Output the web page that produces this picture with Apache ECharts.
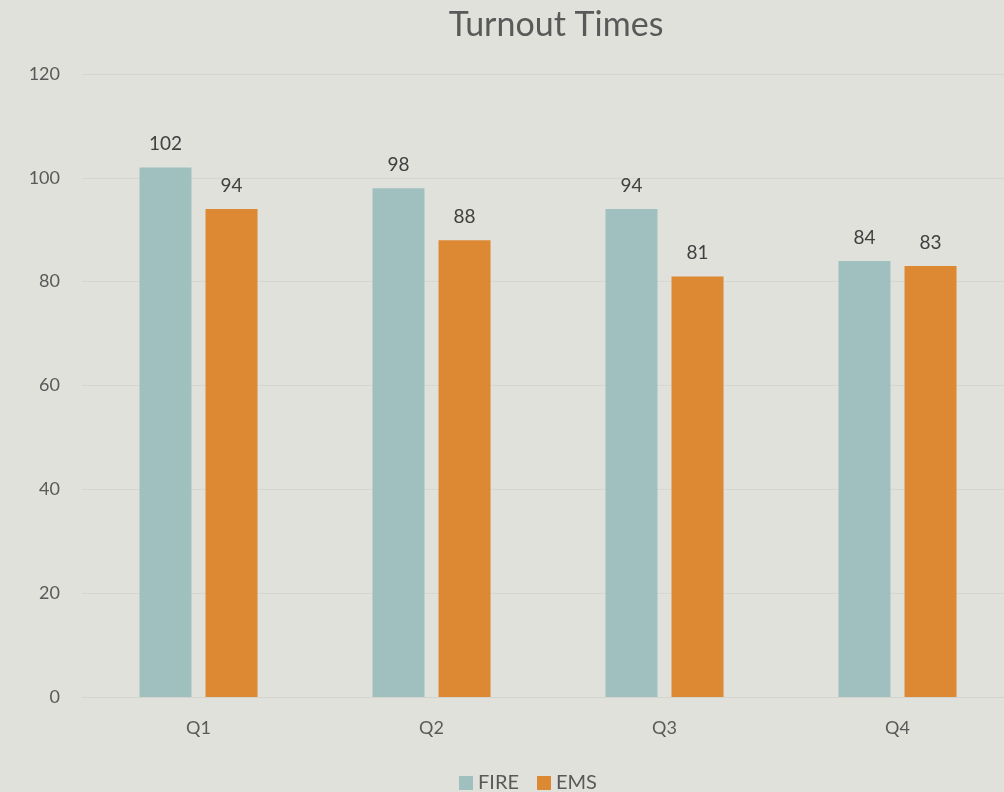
<!DOCTYPE html>
<html>
<head>
<meta charset="utf-8">
<script src="https://cdn.jsdelivr.net/npm/echarts@6/dist/echarts.min.js"></script>
<style>
  html, body { margin: 0; padding: 0; background: #e1e1db; overflow: hidden; }
  #chart { width: 1014px; height: 792px; }
</style>
</head>
<body>
<div id="chart"></div>
<script>
const categories = ['Q1', 'Q2', 'Q3', 'Q4'];
const fireValues = [102, 98, 94, 84];
const emsValues = [94, 88, 81, 83];

const textColor = '#595959';
const font = 'Lato, "Open Sans", sans-serif';

// the plot area runs a little past the right edge of the picture
const chart = echarts.init(document.getElementById('chart'));

const option = {
  backgroundColor: '#e1e1db',
  textStyle: { fontFamily: font },
  title: {
    text: 'Turnout Times',
    left: 551,
    top: 3,
    textAlign: 'center',
    textStyle: { color: textColor, fontSize: 34, fontWeight: 'normal', fontFamily: font }
  },
  legend: {
    top: 768,
    left: 454,
    itemWidth: 14,
    itemHeight: 14,
    itemGap: 18,
    icon: 'rect',
    textStyle: { color: textColor, fontSize: 20, fontFamily: font },
    data: ['FIRE', 'EMS']
  },
  grid: {
    left: 82,
    right: 0,
    top: 74,
    bottom: 95
  },
  xAxis: {
    type: 'category',
    data: categories,
    axisTick: { show: false },
    axisLine: { lineStyle: { color: '#d4d4cf', width: 1 } },
    axisLabel: { color: textColor, fontSize: 18, margin: 22 }
  },
  yAxis: {
    type: 'value',
    min: 0,
    max: 120,
    interval: 20,
    axisLine: { show: false },
    axisTick: { show: false },
    splitLine: { lineStyle: { color: '#d6d6d1', width: 1 } },
    axisLabel: { color: textColor, fontSize: 18, margin: 22 }
  },
  series: [
    {
      name: 'FIRE',
      type: 'bar',
      data: fireValues,
      barWidth: 52,
      barGap: '27%',
      itemStyle: { color: '#a0c0bf' },
      label: { show: true, position: 'top', distance: 14, color: '#404040', fontSize: 19 }
    },
    {
      name: 'EMS',
      type: 'bar',
      data: emsValues,
      barWidth: 52,
      itemStyle: { color: '#dd8833' },
      label: { show: true, position: 'top', distance: 14, color: '#404040', fontSize: 19 }
    }
  ]
};

chart.setOption(option);
</script>
</body>
</html>
